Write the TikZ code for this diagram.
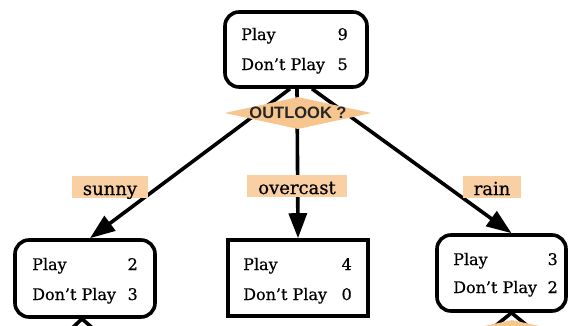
\documentclass[tikz,border=0pt]{standalone}
\usepackage{fontspec}
\setmainfont[FakeBold=0.6]{DejaVu Serif}
\newfontfamily\lsans{Liberation Sans}
\usetikzlibrary{arrows.meta,shapes.geometric}
\definecolor{peach}{RGB}{247,198,142}
\definecolor{labelbg}{RGB}{249,208,164}
\begin{document}
\begin{tikzpicture}[x=1pt,y=-1pt,
  rbox/.style={draw=black,fill=white,line width=3.6pt,rounded corners=14pt,inner sep=0pt},
  sbox/.style={draw=black,fill=white,line width=3.6pt,inner sep=0pt},
  txtl/.style={inner sep=0pt,anchor=base west,font=\fontsize{16}{16}\selectfont},
  txtr/.style={inner sep=0pt,anchor=base east,font=\fontsize{16}{16}\selectfont},
  arr/.style={line width=3.6pt,-{Triangle[length=25pt,width=18pt]}},
  stub/.style={line width=3.6pt},
  lab/.style={fill=labelbg,inner xsep=11pt,inner ysep=0pt,text height=19pt,text depth=3pt,anchor=base,font=\fontsize{18}{18}\selectfont},
  dia/.style={diamond,fill=peach,minimum width=147pt,minimum height=32pt,inner sep=0pt}
]
\clip (0,0) rectangle (568,325);
\useasboundingbox (0,0) rectangle (568,325);

% boxes (shapes)
\node[rbox,minimum width=142pt,minimum height=75pt] (root) at (296,49.5) {};
\node[rbox,minimum width=140pt,minimum height=77pt] (sunny) at (85,278.5) {};
\node[sbox,minimum width=140pt,minimum height=76pt] (over) at (298,278) {};
\node[rbox,minimum width=129pt,minimum height=76pt] (rain) at (501.5,273) {};

% stubs towards further (cut-off) levels
\coordinate (s1) at (68,332);
\coordinate (s2) at (97,332);
\coordinate (r1) at (488,332);
\coordinate (r2) at (535,332);
\draw[stub] ([xshift=-3pt]sunny.south) -- (s1);
\draw[stub] ([xshift=-3pt]sunny.south) -- (s2);
\draw[stub] ([xshift=10pt]rain.south) -- (r1);
\draw[stub] ([xshift=10pt]rain.south) -- (r2);
\node[dia] (q2) at (512,336) {};

% edges
\draw[arr] ([xshift=-6pt]root.south) -- ([xshift=5pt]sunny.north);
\draw[arr] ([xshift=1pt]root.south) -- (over.north);
\draw[arr] ([xshift=16pt]root.south) -- ([xshift=10pt]rain.north);

% decision diamond
\node[dia] (q) at (298,113) {};
\node[inner sep=0pt,font=\lsans\bfseries\fontsize{16.5}{16.5}\selectfont,text=black!85] (qt) at (q) {OUTLOOK ?};

% edge labels
\node[lab] (lsunny) at (110,195) {sunny};
\node[lab] (lover) at (297,194) {overcast};
\node[lab] (lrain) at (492,195) {rain};

% box texts
\node[txtl] (t1a) at (241,40) {Play};
\node[txtr] (t1b) at (348,40) {9};
\node[txtl] (t1c) at (241,70) {Don't Play};
\node[txtr] (t1d) at (348,70) {5};

\node[txtl] (t2a) at (32,270) {Play};
\node[txtr] (t2b) at (138,270) {2};
\node[txtl] (t2c) at (32,300) {Don't Play};
\node[txtr] (t2d) at (138,300) {3};

\node[txtl] (t3a) at (243,270) {Play};
\node[txtr] (t3b) at (352,270) {4};
\node[txtl] (t3c) at (243,300) {Don't Play};
\node[txtr] (t3d) at (352,300) {0};

\node[txtl] (t4a) at (453,265) {Play};
\node[txtr] (t4b) at (558,265) {3};
\node[txtl] (t4c) at (453,293) {Don't Play};
\node[txtr] (t4d) at (558,293) {2};
\end{tikzpicture}
\end{document}
